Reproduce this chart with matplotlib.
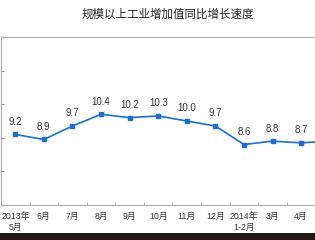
import matplotlib
matplotlib.use("Agg")
import matplotlib.pyplot as plt
from matplotlib.patches import Rectangle

plt.rcParams['font.family'] = ['Liberation Sans', 'Noto Sans CJK SC', 'DejaVu Sans']

title = "规模以上工业增加值同比增长速度"
months = ["2013年\n5月", "6月", "7月", "8月", "9月", "10月", "11月", "12月",
          "2014年\n1-2月", "3月", "4月", "5月"]
values = [9.2, 8.9, 9.7, 10.4, 10.2, 10.3, 10.0, 9.7, 8.6, 8.8, 8.7, 8.8]
yticks = [5, 7, 9, 11, 13, 15]
n_visible = 11  # the last month falls past the right edge of the picture

fig = plt.figure(figsize=(3.15, 2.4), dpi=100)
fig.patch.set_facecolor("white")
ax = fig.add_axes([1/315, 35/240, 343/315, 168/240])

x = list(range(len(values)))
ax.plot(x, values, color="#1a6fd0", lw=1.2, marker="s", ms=3.2,
        markerfacecolor="#1a6fd0", markeredgecolor="#1a6fd0", clip_on=False)
for xi, v in zip(x[:n_visible], values[:n_visible]):
    ax.annotate(f"{v:.1f}", (xi, v), xytext=(0, 5.5), textcoords="offset points",
                ha="center", va="bottom", fontsize=7, color="#333333")

ax.set_xlim(-0.5, len(values) - 0.5)
ax.set_ylim(5, 15)
ax.set_yticks(yticks)
ax.set_yticklabels([])
ax.tick_params(axis="y", length=2, direction="in", color="#999999")
ax.set_xticks(x[:n_visible])
ax.set_xticklabels(months[:n_visible], fontsize=6.3, color="#333333", linespacing=1.3)
ax.set_xticks([i + 0.5 for i in x[:-1]], minor=True)
ax.tick_params(axis="x", which="major", length=0, pad=5)
ax.tick_params(axis="x", which="minor", length=2, direction="in", color="#999999")
for s in ax.spines.values():
    s.set_color("#aaaaaa")
    s.set_linewidth(0.8)

fig.text(168/315, 1 - 15/240, title, ha="center", va="center",
         fontsize=8.3, color="#222222")

fig.patches.append(Rectangle((0, 0), 1, 7/240, transform=fig.transFigure,
                             facecolor="#231815", edgecolor="none"))

fig.savefig("out.png", dpi=100)
